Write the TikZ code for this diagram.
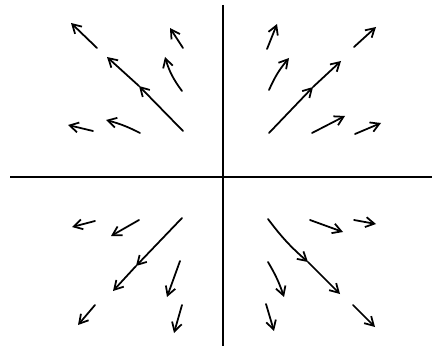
\documentclass[tikz,border=0pt]{standalone}
\usetikzlibrary{arrows.meta}

\begin{document}
\begin{tikzpicture}[
		x=0.03cm, y=-0.03cm,
		eje/.style={
			line width=1.5pt,
			black
		},
		flecha/.style={
			-{Straight Barb[length=2.6mm, width=3mm, line width=1.5pt]},
			line width=1.5pt,
			line cap=round,
			black
		}
		]
		\useasboundingbox (0,0) rectangle (432,348);
		% Ejes
		\draw[eje] (10,177) -- (432,177);
		\draw[eje] (223,5) -- (223,346);
		% Cuadrante superior izquierdo
		\draw[flecha] (97,48) -- (71,23);
		\draw[flecha] (183,48) -- (170,28);
		\draw[flecha] (182,91) to[bend left=10] (165,57);
		\draw[flecha] (183,131) -- (139,86);
		\draw[flecha] (139,86) -- (107,57);
		\draw[flecha] (93,131) -- (68,125);
		\draw[flecha] (140,133) to[bend right=6] (106,120);
		% Cuadrante superior derecho
		\draw[flecha] (267,49) -- (277,24);
		\draw[flecha] (354,47) -- (376,27);
		\draw[flecha] (269,90) to[bend left=8] (289,58);
		\draw[flecha] (269,133) -- (313,87);
		\draw[flecha] (313,87) -- (341,61);
		\draw[flecha] (312,133) -- (345,116);
		\draw[flecha] (355,134) -- (381,123);
		% Cuadrante inferior izquierdo
		\draw[flecha] (95,221) -- (72,227);
		\draw[flecha] (139,220) -- (111,236);
		\draw[flecha] (182,218) -- (136,266);
		\draw[flecha] (136,266) -- (113,291);
		\draw[flecha] (180,261) -- (167,297);
		\draw[flecha] (95,305) -- (78,325);
		\draw[flecha] (182,305) -- (174,333);
		% Cuadrante inferior derecho
		\draw[flecha] (268,219) to[bend right=6] (308,262);
		\draw[flecha] (308,262) -- (340,294);
		\draw[flecha] (310,220) -- (343,232);
		\draw[flecha] (354,220) -- (376,224);
		\draw[flecha] (268,262) to[bend left=6] (284,297);
		\draw[flecha] (266,304) -- (274,331);
		\draw[flecha] (353,305) -- (375,327);
	\end{tikzpicture}
\end{document}
